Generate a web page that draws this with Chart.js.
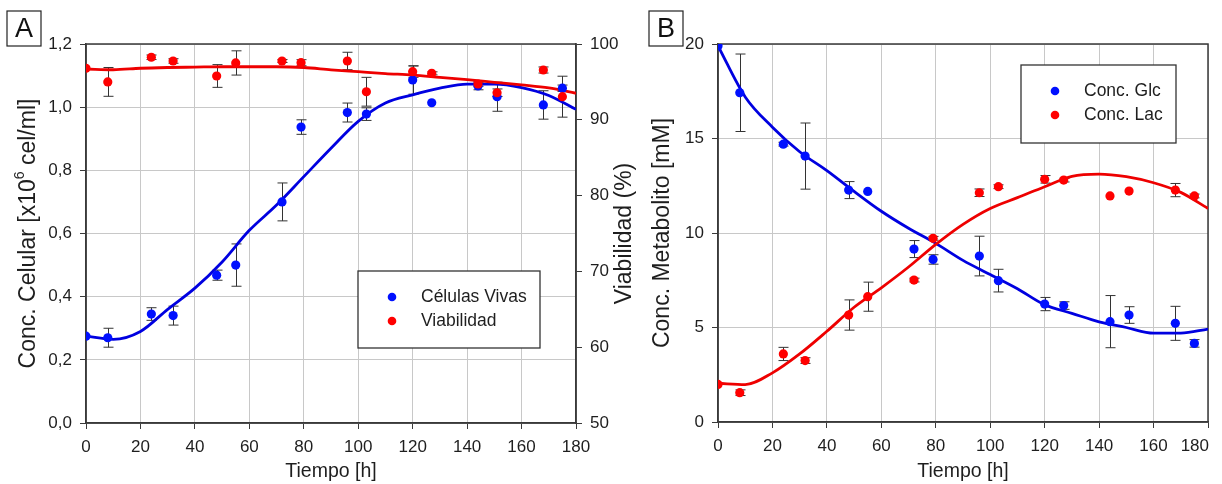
<!DOCTYPE html>
<html>
<head>
<meta charset="utf-8">
<script src="https://cdn.jsdelivr.net/npm/chart.js@4.4.1/dist/chart.umd.min.js"></script>
<style>
body { margin: 0; background: #fff; }
#wrap { position: relative; width: 1222px; height: 484px; }
canvas { position: absolute; top: 0; }
</style>
</head>
<body>
<div id="wrap">
  <canvas id="chartA" width="645" height="484" style="left:0"></canvas>
  <canvas id="chartB" width="577" height="484" style="left:645px"></canvas>
</div>
<script>
// tiempos de muestreo [h]
var tiempos = [0, 8, 24, 32, 48, 55, 72, 79, 96, 103, 120, 127, 144, 151, 168, 175];

// panel A
var celulasVivas = [0.275, 0.27, 0.345, 0.34, 0.468, 0.50, 0.70, 0.937, 0.983, 0.978, 1.086, 1.014, 1.067, 1.033, 1.007, 1.06];
var celulasErr   = [0, 0.03, 0.02, 0.03, 0.016, 0.067, 0.06, 0.023, 0.03, 0.02, 0.045, 0, 0.012, 0.046, 0.045, 0.01];
var viabilidad    = [96.8, 95.0, 98.25, 97.76, 95.78, 97.5, 97.76, 97.53, 97.76, 93.7, 96.35, 96.13, 94.72, 93.57, 96.57, 93.05];
var viabilidadErr = [0, 1.9, 0.3, 0.3, 1.5, 1.6, 0.2, 0.4, 1.15, 1.9, 0.75, 0.2, 0.3, 0.5, 0.4, 2.7];

// panel B
var glc    = [19.9, 17.42, 14.7, 14.07, 12.27, 12.2, 9.15, 8.6, 8.78, 7.48, 6.24, 6.16, 5.31, 5.66, 5.22, 4.16];
var glcErr = [0, 2.05, 0.1, 1.75, 0.45, 0, 0.45, 0.25, 1.05, 0.6, 0.35, 0.2, 1.38, 0.44, 0.9, 0.2];
var lac    = [1.99, 1.55, 3.6, 3.25, 5.66, 6.63, 7.51, 9.72, 12.13, 12.45, 12.84, 12.8, 11.96, 12.22, 12.27, 11.96];
var lacErr = [0, 0.15, 0.35, 0.15, 0.8, 0.77, 0.1, 0.1, 0.2, 0.1, 0.2, 0.1, 0, 0, 0.35, 0.1];

// curvas ajustadas
var tiemposAjuste = [0, 10, 20, 30, 40, 50, 60, 70, 80, 90, 100, 110, 120, 130, 140, 150, 160, 170, 180];
var ajusteCelulas = [0.275, 0.265, 0.29, 0.36, 0.427, 0.51, 0.61, 0.69, 0.78, 0.87, 0.955, 1.013, 1.039, 1.06, 1.073, 1.073, 1.062, 1.037, 0.993];
var ajusteViab    = [96.7, 96.6, 96.8, 96.9, 96.95, 97.0, 97.0, 97.0, 96.9, 96.6, 96.35, 96.1, 95.9, 95.6, 95.3, 94.95, 94.6, 94.2, 93.5];
var ajusteGlc     = [19.9, 17.2, 15.6, 14.3, 13.3, 12.2, 11.15, 10.25, 9.45, 8.55, 7.8, 7.05, 6.2, 5.75, 5.3, 5.0, 4.7, 4.7, 4.92];
var ajusteLac     = [2.05, 1.98, 2.6, 3.6, 4.8, 6.07, 7.1, 8.2, 9.4, 10.46, 11.3, 11.87, 12.45, 13.0, 13.12, 12.98, 12.66, 12.15, 11.3];

var azul = '#0010ff', azulLinea = '#0000e0';
var rojo = '#ff0000', rojoLinea = '#ee0000';
var ejeColor = '#3a3a3a', gridColor = '#c8c8c8', texto = '#1e1e1e';
var fuente = '"Liberation Sans", Arial, sans-serif';

Chart.defaults.font.family = fuente;
Chart.defaults.font.size = 17;
Chart.defaults.color = texto;

function puntos(xs, ys) {
    return xs.map(function(x, i) { return {x: x, y: ys[i]}; });
}

var barrasError = {
    id: 'barrasError',
    beforeDatasetsDraw: function(chart) {
        var ctx = chart.ctx;
        chart.data.datasets.forEach(function(ds, i) {
            if (!ds.errores) return;
            var meta = chart.getDatasetMeta(i);
            var yScale = chart.scales[ds.yAxisID];
            ctx.save();
            ctx.strokeStyle = '#333';
            ctx.lineWidth = 1;
            meta.data.forEach(function(pt, j) {
                var e = ds.errores[j];
                if (!e) return;
                var v = ds.data[j].y;
                var y1 = yScale.getPixelForValue(v + e);
                var y2 = yScale.getPixelForValue(v - e);
                var x = Math.round(pt.x) + 0.5;
                ctx.beginPath();
                ctx.moveTo(x, y1); ctx.lineTo(x, y2);
                ctx.moveTo(x - 5, y1); ctx.lineTo(x + 5, y1);
                ctx.moveTo(x - 5, y2); ctx.lineTo(x + 5, y2);
                ctx.stroke();
            });
            ctx.restore();
        });
    }
};

function dibujarPartes(ctx, partes, cx, cy, rotar, tam) {
    var total = 0;
    var sup = Math.round(tam * 0.62);
    partes.forEach(function(p) {
        ctx.font = (p.sup ? sup : tam) + 'px ' + fuente;
        p.w = ctx.measureText(p.t).width;
        total += p.w;
    });
    ctx.save();
    ctx.translate(cx, cy);
    if (rotar) ctx.rotate(-Math.PI / 2);
    ctx.textBaseline = 'middle';
    ctx.textAlign = 'left';
    var x = -total / 2;
    partes.forEach(function(p) {
        ctx.font = (p.sup ? sup : tam) + 'px ' + fuente;
        ctx.fillText(p.t, x, p.sup ? -tam * 0.4 : 0);
        x += p.w;
    });
    ctx.restore();
}

var extras = {
    id: 'extras',
    beforeDatasetsDraw: function(chart) {
        var ctx = chart.ctx, a = chart.chartArea;
        ctx.save();
        ctx.strokeStyle = ejeColor;
        ctx.lineWidth = 1.5;
        ctx.strokeRect(a.left, a.top, a.right - a.left, a.bottom - a.top);
        ctx.restore();
    },
    afterDraw: function(chart, args, opts) {
        var ctx = chart.ctx, a = chart.chartArea;
        ctx.save();
        // letra del panel
        var L = opts.letra;
        ctx.strokeStyle = '#222';
        ctx.lineWidth = 1.2;
        ctx.fillStyle = '#fff';
        ctx.fillRect(L.x, L.y, 34, 35);
        ctx.strokeRect(L.x, L.y, 34, 35);
        ctx.fillStyle = '#111';
        ctx.font = '27px ' + fuente;
        ctx.textAlign = 'center';
        ctx.textBaseline = 'middle';
        ctx.fillText(L.t, L.x + 17, L.y + 19);
        // ultima etiqueta del eje x alineada a la derecha
        if (opts.ultimaX) {
            var sx = chart.scales.x;
            ctx.fillStyle = texto;
            ctx.font = '17px ' + fuente;
            ctx.textAlign = 'right';
            ctx.textBaseline = 'middle';
            ctx.fillText(opts.ultimaX, a.right + 1, sx.top + 24);
        }
        // titulos de ejes
        ctx.fillStyle = texto;
        opts.titulos.forEach(function(t) {
            var cx = t.x != null ? t.x : (a.left + a.right) / 2;
            var cy = t.y != null ? t.y : (a.top + a.bottom) / 2;
            dibujarPartes(ctx, t.partes, cx, cy, t.rotar, t.rotar ? 23 : 19.5);
        });
        // leyenda
        var g = opts.leyenda;
        ctx.fillStyle = '#fff';
        ctx.fillRect(g.x, g.y, g.w, g.h);
        ctx.strokeStyle = '#333';
        ctx.lineWidth = 1.3;
        ctx.strokeRect(g.x, g.y, g.w, g.h);
        ctx.font = '17.5px ' + fuente;
        ctx.textAlign = 'left';
        ctx.textBaseline = 'middle';
        g.items.forEach(function(it, i) {
            var yy = g.y + 26 + i * 24;
            ctx.fillStyle = it.color;
            ctx.beginPath();
            ctx.arc(g.x + 34, yy, 4.3, 0, Math.PI * 2);
            ctx.fill();
            ctx.fillStyle = texto;
            ctx.fillText(it.t, g.x + 63, yy);
        });
        ctx.restore();
    }
};

function ejeX(alto, ocultarUltima) {
    return {
        type: 'linear', min: 0, max: 180,
        ticks: {
            stepSize: 20, padding: 8,
            callback: function(v) { return (ocultarUltima && v === 180) ? '' : v; }
        },
        grid: {color: gridColor, tickColor: ejeColor, tickLength: 6},
        border: {color: ejeColor, width: 1.5},
        afterFit: function(s) { s.height = alto; s.paddingLeft = 0; s.paddingRight = 0; }
    };
}

function ejeY(pos, min, max, paso, ancho, enArea, coma) {
    return {
        type: 'linear', position: pos, min: min, max: max,
        ticks: {
            stepSize: paso, padding: 8,
            callback: function(v) { return coma ? v.toFixed(1).replace('.', ',') : v; }
        },
        grid: {color: gridColor, tickColor: ejeColor, tickLength: 6, drawOnChartArea: enArea},
        border: {color: ejeColor, width: 1.5},
        afterFit: function(s) { s.width = ancho; }
    };
}

function serie(label, xs, ys, eje, color, err) {
    return {label: label, data: puntos(xs, ys), yAxisID: eje, errores: err,
        backgroundColor: color, pointRadius: 4.6, pointBorderWidth: 0, showLine: false};
}

function curva(ys, eje, color) {
    return {data: puntos(tiemposAjuste, ys), yAxisID: eje, showLine: true, pointRadius: 0,
        borderColor: color, borderWidth: 2.8, cubicInterpolationMode: 'monotone', fill: false};
}

new Chart(document.getElementById('chartA'), {
    type: 'scatter',
    data: {datasets: [
        serie('Viabilidad', tiempos, viabilidad, 'y2', rojo, viabilidadErr),
        serie('Células Vivas', tiempos, celulasVivas, 'y', azul, celulasErr),
        curva(ajusteViab, 'y2', rojoLinea),
        curva(ajusteCelulas, 'y', azulLinea)
    ]},
    options: {
        responsive: false, animation: false, devicePixelRatio: 1,
        layout: {padding: {top: 44, left: 0, right: 0, bottom: 0}},
        scales: {
            x: ejeX(61, false),
            y: ejeY('left', 0, 1.2, 0.2, 86, true, true),
            y2: ejeY('right', 50, 100, 10, 69, false, false)
        },
        plugins: {
            legend: {display: false}, tooltip: {enabled: false},
            extras: {
                letra: {t: 'A', x: 7, y: 11},
                titulos: [
                    {partes: [{t: 'Conc. Celular [x10'}, {t: '6', sup: true}, {t: ' cel/ml]'}], x: 29, rotar: true},
                    {partes: [{t: 'Viabilidad (%)'}], x: 625, rotar: true},
                    {partes: [{t: 'Tiempo [h]'}], y: 472}
                ],
                leyenda: {x: 358, y: 271, w: 182, h: 77, items: [
                    {t: 'Células Vivas', color: azul},
                    {t: 'Viabilidad', color: rojo}
                ]}
            }
        }
    },
    plugins: [barrasError, extras]
});

new Chart(document.getElementById('chartB'), {
    type: 'scatter',
    data: {datasets: [
        serie('Conc. Glc', tiempos, glc, 'y', azul, glcErr),
        serie('Conc. Lac', tiempos, lac, 'y', rojo, lacErr),
        curva(ajusteLac, 'y', rojoLinea),
        curva(ajusteGlc, 'y', azulLinea)
    ]},
    options: {
        responsive: false, animation: false, devicePixelRatio: 1,
        layout: {padding: {top: 44, left: 0, right: 14, bottom: 0}},
        scales: {
            x: ejeX(62, true),
            y: ejeY('left', 0, 20, 5, 73, true, false)
        },
        plugins: {
            legend: {display: false}, tooltip: {enabled: false},
            extras: {
                letra: {t: 'B', x: 4, y: 11},
                ultimaX: '180',
                titulos: [
                    {partes: [{t: 'Conc. Metabolito [mM]'}], x: 18, rotar: true},
                    {partes: [{t: 'Tiempo [h]'}], y: 472}
                ],
                leyenda: {x: 376, y: 65, w: 155, h: 78, items: [
                    {t: 'Conc. Glc', color: azul},
                    {t: 'Conc. Lac', color: rojo}
                ]}
            }
        }
    },
    plugins: [barrasError, extras]
});
</script>
</body>
</html>
